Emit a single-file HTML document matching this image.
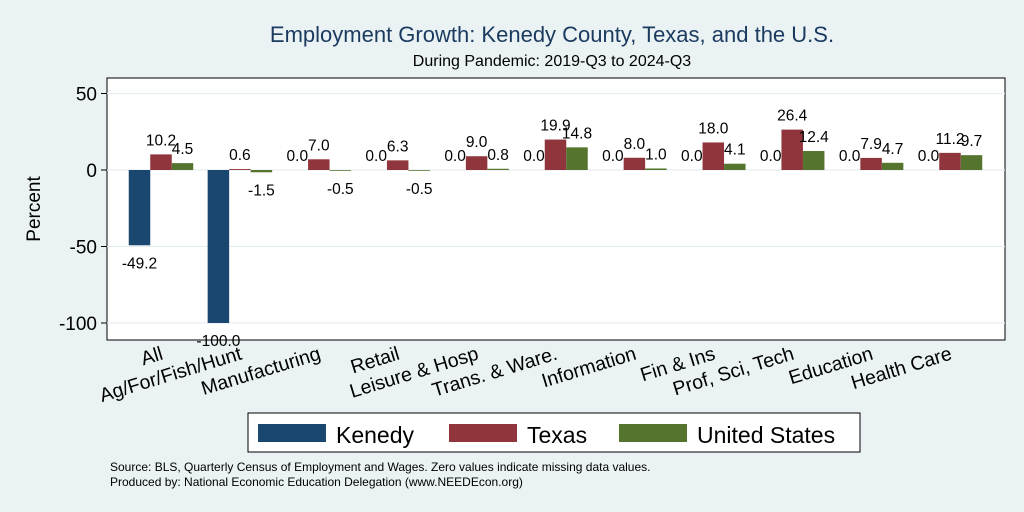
<!DOCTYPE html>
<html><head><meta charset="utf-8"><style>
html,body{margin:0;padding:0;background:#eaf2f3;}
svg{display:block;font-family:"Liberation Sans",sans-serif;}
</style></head><body>
<svg id="chart" width="1024" height="512" viewBox="0 0 1024 512">
<rect x="0" y="0" width="1024" height="512" fill="#eaf2f3"/>
<text x="552" y="42" font-size="22" fill="#1a3a5f" text-anchor="middle">Employment Growth: Kenedy County, Texas, and the U.S.</text>
<text x="552" y="66" font-size="16" fill="#000" text-anchor="middle">During Pandemic: 2019-Q3 to 2024-Q3</text>
<rect x="107" y="78" width="898" height="262" fill="#fff" stroke="#000" stroke-width="1"/>
<g id="grid"></g><g id="bars"></g><g id="labels"></g><g id="xlabels"></g>
<text transform="translate(40,209) rotate(-90)" font-size="19" text-anchor="middle">Percent</text>
<g>
<rect x="248" y="413" width="612" height="39" fill="#fff" stroke="#000"/>
<rect x="258" y="424" width="68" height="18" fill="#1a476f"/>
<text x="336" y="443" font-size="23">Kenedy</text>
<rect x="449" y="424" width="68" height="18" fill="#90353b"/>
<text x="527" y="443" font-size="23">Texas</text>
<rect x="619" y="424" width="68" height="18" fill="#55752f"/>
<text x="697" y="443" font-size="23">United States</text>
</g>
<text x="110" y="471" font-size="12">Source: BLS, Quarterly Census of Employment and Wages. Zero values indicate missing data values.</text>
<text x="110" y="486" font-size="12">Produced by: National Economic Education Delegation (www.NEEDEcon.org)</text>
</svg>
<script>
const categories = ["All","Ag/For/Fish/Hunt","Manufacturing","Retail","Leisure & Hosp","Trans. & Ware.","Information","Fin & Ins","Prof, Sci, Tech","Education","Health Care"];
const kenedy = [-49.2,-100.0,0.0,0.0,0.0,0.0,0.0,0.0,0.0,0.0,0.0];
const texas = [10.2,0.6,7.0,6.3,9.0,19.9,8.0,18.0,26.4,7.9,11.2];
const us = [4.5,-1.5,-0.5,-0.5,0.8,14.8,1.0,4.1,12.4,4.7,9.7];
const yTicks = [50,0,-50,-100];
const seriesNames = ["kenedy","texas","us"];
const colors = ["#1a476f","#90353b","#55752f"];
const NS="http://www.w3.org/2000/svg";
function y(v){return 170 - v*1.53;}
function gx(i){return 161 + i*78.9;}
const bw=21.5;
function mk(tag,attrs,parent){const e=document.createElementNS(NS,tag);for(const k in attrs)e.setAttribute(k,attrs[k]);parent.appendChild(e);return e;}
const grid=document.getElementById('grid');
yTicks.forEach(t=>{
  const l=mk('line',{x1:107,x2:1005,y1:y(t),y2:y(t),stroke:'#e6eef0','stroke-width':1.2},grid);
  
  
  const tk=mk('line',{x1:101,x2:107,y1:y(t),y2:y(t),stroke:'#000'},grid);
  
  
  const tx=mk('text',{x:97,y:y(t)+7,'font-size':19,'text-anchor':'end'},grid);
  tx.textContent=t;
  
  
});
const bars=document.getElementById('bars'), labels=document.getElementById('labels'), xl=document.getElementById('xlabels');
const all=[kenedy,texas,us];
categories.forEach((c,i)=>{
  all.forEach((s,j)=>{
    const v=s[i]; const x0=gx(i)+(j-1.5)*bw;
    const top=Math.min(y(v),y(0)), h=Math.abs(y(v)-y(0));
    const r=mk('rect',{x:x0,y:top,width:bw,height:Math.max(h,0.01),fill:colors[j]},bars);
    
    
    const ly = v<0 ? y(v)+23 : y(v)-9;
    const t=mk('text',{x:x0+bw/2,y:ly,'font-size':15.5,'text-anchor':'middle'},labels);
    t.textContent=v.toFixed(1);
    
    
  });
  const lx=gx(i)+3, ly=359;
  const t=mk('text',{x:lx,y:ly,'font-size':19.5,'text-anchor':'end',transform:'rotate(-17 '+lx+' '+ly+')'},xl);
  t.textContent=c;
  
  
});
</script>
</body></html>
